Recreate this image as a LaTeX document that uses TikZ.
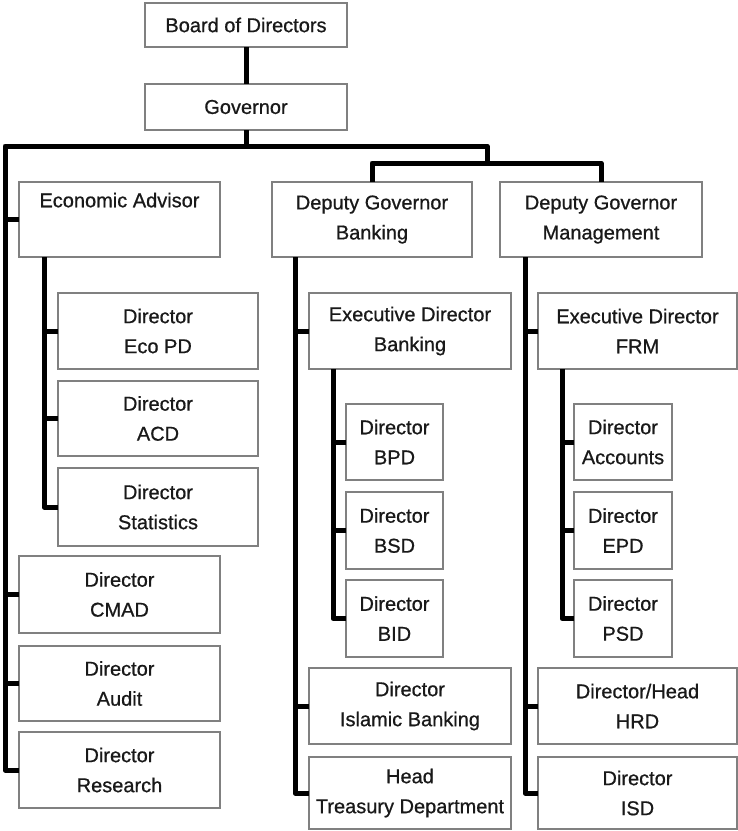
\documentclass[tikz,border=0pt]{standalone}
\usepackage{fontspec}
\setmainfont{Liberation Sans}
\newfontfamily\boxfont{Liberation Sans}[FakeBold=0.7]
\begin{document}
\begin{tikzpicture}[x=1pt,y=-1pt,
  box/.style={draw={rgb,255:red,128;green,128;blue,128}, line width=2pt, fill=white,
    inner sep=0pt, outer sep=0pt, align=center, anchor=north west,
    text={rgb,255:red,25;green,25;blue,25},
    font=\boxfont\fontsize{20}{30}\selectfont},
  conn/.style={draw=black, line width=5pt, line join=round, line cap=butt}]
\path[use as bounding box] (0,0) rectangle (738,831);

% nodes
\node[box, minimum width=202pt, minimum height=44pt] (board) at (145,3) {Board of Directors};
\node[box, minimum width=202pt, minimum height=46pt] (gov) at (145,84) {Governor};

\node[box, minimum width=201pt, minimum height=75pt] (ea) at (19,182) {Economic Advisor\\\strut};
\node[box, minimum width=200pt, minimum height=75pt] (dgb) at (272,182) {Deputy Governor\\Banking};
\node[box, minimum width=202pt, minimum height=75pt] (dgm) at (500,182) {Deputy Governor\\Management};

\node[box, minimum width=200pt, minimum height=76pt] (ecopd) at (58,293) {Director\\Eco PD};
\node[box, minimum width=200pt, minimum height=75pt] (acd) at (58,381) {Director\\ACD};
\node[box, minimum width=200pt, minimum height=78pt] (stat) at (58,468) {Director\\Statistics};
\node[box, minimum width=201pt, minimum height=77pt] (cmad) at (19,556) {Director\\CMAD};
\node[box, minimum width=201pt, minimum height=75pt] (audit) at (19,646) {Director\\Audit};
\node[box, minimum width=201pt, minimum height=76pt] (res) at (19,732) {Director\\Research};

\node[box, minimum width=202pt, minimum height=76pt] (edb) at (309,293) {Executive Director\\Banking};
\node[box, minimum width=97pt, minimum height=76pt] (bpd) at (346,404) {Director\\BPD};
\node[box, minimum width=97pt, minimum height=77pt] (bsd) at (346,492) {Director\\BSD};
\node[box, minimum width=97pt, minimum height=77pt] (bid) at (346,580) {Director\\BID};
\node[box, minimum width=202pt, minimum height=76pt] (isl) at (309,668) {Director\\Islamic Banking};
\node[box, minimum width=202pt, minimum height=72pt] (tre) at (309,757) {Head\\Treasury Department};

\node[box, minimum width=199pt, minimum height=76pt] (edf) at (538,293) {Executive Director\\FRM};
\node[box, minimum width=98pt, minimum height=76pt] (acc) at (574,404) {Director\\Accounts};
\node[box, minimum width=98pt, minimum height=77pt] (epd) at (574,492) {Director\\EPD};
\node[box, minimum width=98pt, minimum height=77pt] (psd) at (574,580) {Director\\PSD};
\node[box, minimum width=199pt, minimum height=76pt] (hrd) at (538,668) {Director/Head\\HRD};
\node[box, minimum width=199pt, minimum height=72pt] (isd) at (538,757) {Director\\ISD};

% bus coordinates
\coordinate (lt) at (5,146);
\coordinate (rj) at (487,146);
\coordinate (rj2) at (487,163);
\coordinate (eat) at (44,257);
\coordinate (dgbt) at (295,257);
\coordinate (edbt) at (333,369);
\coordinate (dgmt) at (525,257);
\coordinate (edft) at (562,369);

% connectors
\draw[conn] (board.south) -- (gov.north);
\draw[conn] (gov.south) -- (gov.south |- lt);
\draw[conn] (res.west) -| (lt) -- (rj) -- (rj2);
\draw[conn] (dgb.north) |- (rj2) -| (dgm.north);

\draw[conn] (ea.west) -- (ea.west -| lt);
\draw[conn] (cmad.west) -- (cmad.west -| lt);
\draw[conn] (audit.west) -- (audit.west -| lt);

\draw[conn] (eat) |- (stat.west);
\draw[conn] (ecopd.west) -- (ecopd.west -| eat);
\draw[conn] (acd.west) -- (acd.west -| eat);

\draw[conn] (dgbt) |- (tre.west);
\draw[conn] (edb.west) -- (edb.west -| dgbt);
\draw[conn] (isl.west) -- (isl.west -| dgbt);
\draw[conn] (edbt) |- (bid.west);
\draw[conn] (bpd.west) -- (bpd.west -| edbt);
\draw[conn] (bsd.west) -- (bsd.west -| edbt);

\draw[conn] (dgmt) |- (isd.west);
\draw[conn] (edf.west) -- (edf.west -| dgmt);
\draw[conn] (hrd.west) -- (hrd.west -| dgmt);
\draw[conn] (edft) |- (psd.west);
\draw[conn] (acc.west) -- (acc.west -| edft);
\draw[conn] (epd.west) -- (epd.west -| edft);
\end{tikzpicture}
\end{document}
